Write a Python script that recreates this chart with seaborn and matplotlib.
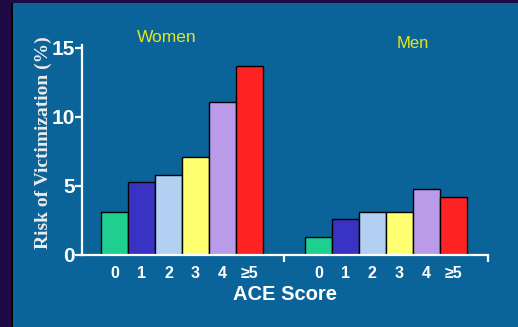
import matplotlib
matplotlib.use("Agg")
import numpy as np
import pandas as pd
import seaborn as sns
import matplotlib.pyplot as plt
from matplotlib.patches import Rectangle

# データ
scores = ["0", "1", "2", "3", "4", "\u22655"]
women = [3.1, 5.3, 5.8, 7.1, 11.1, 13.7]
men = [1.3, 2.6, 3.1, 3.1, 4.8, 4.2]
bar_colors = ["#1fcf8f", "#3a32c2", "#b2d0f2", "#ffff72", "#b99be9", "#ff2222"]

BG = "#0b6499"
DARK = "#1e0a45"

# 各グループの配置 (バー幅 = 1)
men_offset = 7.55
pos = list(np.arange(len(scores))) + list(np.arange(len(scores)) + men_offset)
df = pd.DataFrame({
    "pos": pos,
    "value": women + men,
    "score": scores + scores,
})

sns.set_theme(style="white")
plt.rcParams["font.family"] = ["Liberation Sans", "DejaVu Sans"]

fig = plt.figure(figsize=(5.18, 3.27), dpi=100, facecolor=BG)
ax = fig.add_axes([0.1583, 0.2202, 0.7838, 0.6422])
ax.set_facecolor(BG)

sns.barplot(
    data=df, x="pos", y="value", hue="score",
    palette=dict(zip(scores, bar_colors)), hue_order=scores,
    native_scale=True, dodge=False, width=1.0, saturation=1,
    edgecolor="black", linewidth=1.0, legend=False, ax=ax,
)

ax.set_xlim(-1.2, 13.83)
ax.set_ylim(0, 15.2)

for side in ["top", "right"]:
    ax.spines[side].set_visible(False)
for side in ["left", "bottom"]:
    ax.spines[side].set_color("white")
    ax.spines[side].set_linewidth(1.6)

ax.set_yticks([0, 5, 10, 15])
ax.set_yticklabels(["0", "5", "10", "15"])
ax.tick_params(axis="y", colors="white", length=5, width=1.6, pad=0,
               labelsize=15, direction="out", left=True)
for t in ax.get_yticklabels():
    t.set_fontweight("bold")

ax.set_xticks(df["pos"])
ax.set_xticklabels(df["score"])
ax.tick_params(axis="x", colors="white", length=0, pad=8, labelsize=11.5)
for t in ax.get_xticklabels():
    t.set_fontweight("bold")
ax.set_xticks([6.28, 13.83], minor=True)
ax.tick_params(axis="x", which="minor", bottom=True, length=5, width=1.6,
               color="white", direction="out")

ax.set_xlabel("ACE Score", color="white", fontsize=14.5, fontweight="bold",
              labelpad=3)
ax.set_ylabel("Risk of Victimization (%)", color="#ececec", fontsize=14,
              fontweight="bold", family=["Liberation Serif", "DejaVu Serif"],
              labelpad=6)
ax.yaxis.set_label_coords(-0.075, 0.535)

fig.text(167 / 518, 1 - 38 / 327, "Women", color="#e6e619", fontsize=12.5,
         ha="center", va="center")
fig.text(413 / 518, 1 - 43 / 327, "Men", color="#e6e619", fontsize=12,
         ha="center", va="center")

# 外枠 (左と上の濃紺の帯)
fig.patches.append(Rectangle((0, 0), 11 / 518, 1, transform=fig.transFigure,
                             facecolor=DARK, edgecolor="none", zorder=-1))
fig.patches.append(Rectangle((11 / 518, 0), 1.5 / 518, 1, transform=fig.transFigure,
                             facecolor="black", edgecolor="none", zorder=-1))
fig.patches.append(Rectangle((0, 1 - 3 / 327), 1, 3 / 327, transform=fig.transFigure,
                             facecolor=DARK, edgecolor="none", zorder=-1))

fig.savefig("out.png", dpi=100, facecolor=BG)
plt.close(fig)
